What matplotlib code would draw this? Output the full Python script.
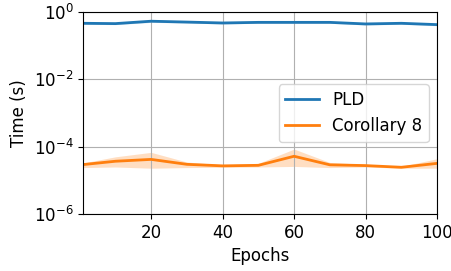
import numpy as np
import matplotlib
matplotlib.use('Agg')
import matplotlib.pyplot as plt

epochs = [1, 10, 20, 30, 40, 50, 60, 70, 80, 90, 100]

pld_mean = [0.46, 0.45, 0.53, 0.50, 0.47, 0.49, 0.49, 0.49, 0.44, 0.46, 0.42]
pld_low = [0.43, 0.42, 0.49, 0.47, 0.44, 0.46, 0.46, 0.46, 0.41, 0.43, 0.39]
pld_high = [0.49, 0.48, 0.57, 0.53, 0.50, 0.52, 0.52, 0.52, 0.47, 0.49, 0.45]

cor_mean = [2.95e-5, 3.7e-5, 4.2e-5, 3.0e-5, 2.7e-5, 2.8e-5, 5.2e-5, 2.9e-5, 2.75e-5, 2.45e-5, 3.2e-5]
cor_low = [2.4e-5, 2.5e-5, 2.3e-5, 2.4e-5, 2.45e-5, 2.5e-5, 2.6e-5, 2.4e-5, 2.5e-5, 2.3e-5, 2.3e-5]
cor_high = [3.3e-5, 5.0e-5, 6.8e-5, 3.5e-5, 2.9e-5, 3.2e-5, 8.5e-5, 3.4e-5, 3.0e-5, 2.6e-5, 4.4e-5]

plt.rcParams['font.size'] = 12

fig = plt.figure(figsize=(4.52, 2.71), dpi=100)
ax = fig.add_axes([0.184, 0.21, 0.783, 0.746])

ax.plot(epochs, pld_mean, color='C0', lw=2, label='PLD')
ax.fill_between(epochs, pld_low, pld_high, color='C0', alpha=0.25, lw=0)
ax.plot(epochs, cor_mean, color='C1', lw=2, label='Corollary 8')
ax.fill_between(epochs, cor_low, cor_high, color='C1', alpha=0.25, lw=0)

ax.set_yscale('log')
ax.set_ylim(1e-6, 1e0)
ax.set_yticks([1e-6, 1e-4, 1e-2, 1e0])
ax.minorticks_off()
ax.set_xlim(1, 100)
ax.set_xticks([20, 40, 60, 80, 100])
ax.grid(True, color='#b0b0b0', lw=0.8)
ax.set_xlabel('Epochs')
ax.set_ylabel('Time (s)')
ax.legend(loc='center right')

fig.savefig('out.png', dpi=100)
